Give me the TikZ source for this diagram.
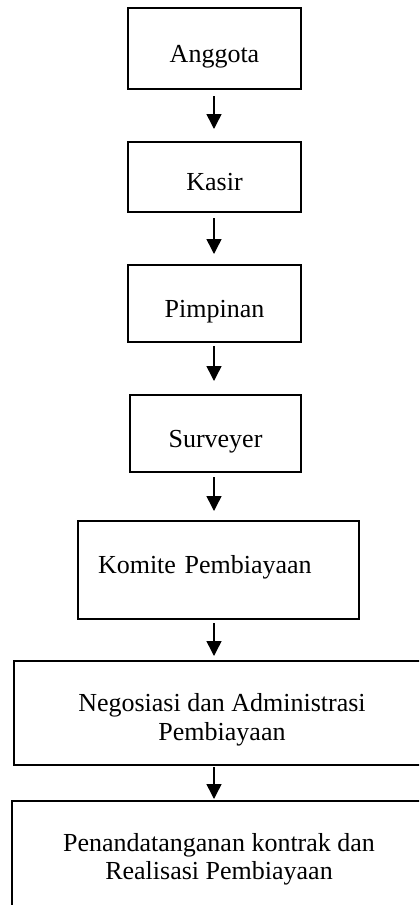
\documentclass[tikz,border=0pt]{standalone}
\usepackage{fontspec}
\setmainfont{Liberation Serif}
\usetikzlibrary{arrows.meta}
\tikzset{
  box/.style={draw, line width=1pt, inner sep=0pt, align=center,
              font=\fontsize{13}{14.2}\selectfont},
  oneline/.style={text height=16.9pt, text depth=3.25pt},
  flow/.style={line width=0.75pt, -{Triangle[length=7.5pt,width=7.5pt]}}
}
\begin{document}
\begin{tikzpicture}[x=0.5pt, y=-0.5pt]
\useasboundingbox (0,0) rectangle (419,905);
\clip (0,0) rectangle (419,905);
\coordinate (spine) at (214,0);
% kotak alur
\node[box, oneline, minimum width=86.5pt, minimum height=40.5pt] (anggota) at (214.5,48.5) {Anggota};
\node[box, oneline, minimum width=86.5pt, minimum height=35pt] (kasir) at (214.5,177) {Kasir};
\node[box, oneline, minimum width=86.5pt, minimum height=38.5pt] (pimpinan) at (214.5,303.5) {Pimpinan};
\node[box, oneline, minimum width=85.5pt, minimum height=38.5pt] (surveyer) at (215.5,433.5) {Surveyer};
\node[box, align=left, inner xsep=10pt, text width=120.5pt, text depth=5.6pt,
      minimum height=49pt] (komite) at (218.5,570) {Komite Pembiayaan};
\node[box, text height=29.9pt, minimum width=208pt, minimum height=52pt] (negosiasi) at (222,713)
     {Negosiasi dan Administrasi\\ Pembiayaan};
\node[box, minimum width=207pt, minimum height=58.5pt] (kontrak) at (219,859.5)
     {Penandatanganan kontrak dan\\ Realisasi Pembiayaan};
% panah
\foreach \a/\b/\s/\e in {anggota/kasir/3/6, kasir/pimpinan/2.5/5,
    pimpinan/surveyer/1.5/6.5, surveyer/komite/2/4.5,
    komite/negosiasi/1.5/2, negosiasi/kontrak/0.5/0.5}
{
\draw[flow, shorten <=\s pt, shorten >=\e pt] (\a.south -| spine) -- (\b.north -| spine);
}
\end{tikzpicture}
\end{document}
